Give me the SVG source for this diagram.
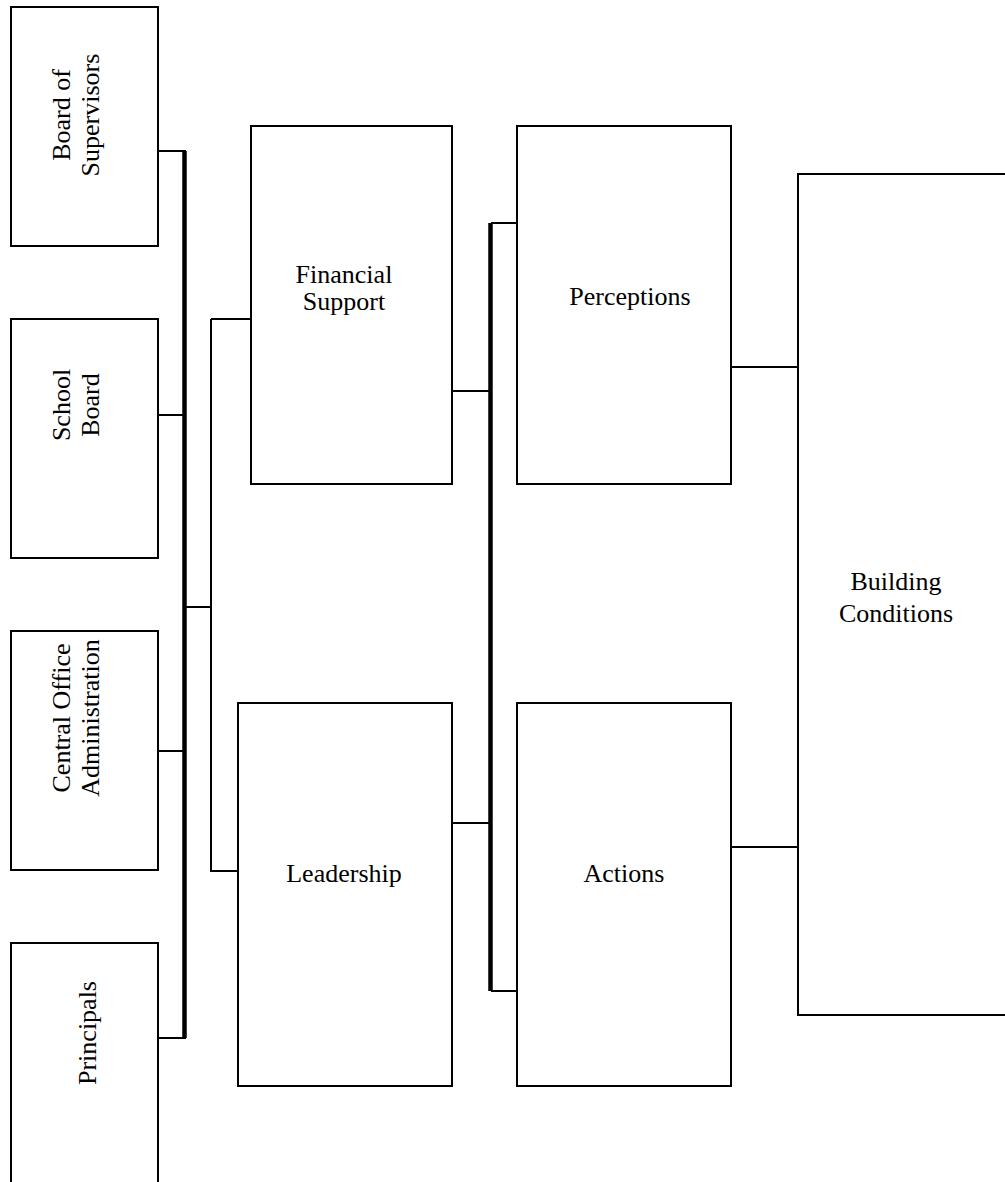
<svg xmlns="http://www.w3.org/2000/svg" width="1005" height="1182" viewBox="0 0 1005 1182">
<style>
.box{fill:#fff;stroke:#000;stroke-width:2}
.ln{fill:none;stroke:#000;stroke-width:2}
.bar{fill:none;stroke:#000;stroke-width:4.5}
text{font-family:"Liberation Serif","Times New Roman",serif;font-size:26px;fill:#000;text-anchor:middle}
</style>
<rect width="1005" height="1182" fill="#fff"/>
<g id="connectors">
<path class="ln" d="M158 151H186M158 415H186M158 751H186M158 1038H186M186 607H211M211 319H251M211 319V871H238"/>
<path class="bar" d="M184.5 151V1038"/>
<path class="ln" d="M452 391H491M452 823H491M491 223H517M491 991H517M731 367H798M731 847H798"/>
<path class="bar" d="M490.5 223V991"/>
</g>
<g id="board-of-supervisors">
<rect class="box" x="11" y="7" width="147" height="239"/>
<text transform="translate(70,115) rotate(-90)">Board of</text>
<text transform="translate(99,115) rotate(-90)">Supervisors</text>
</g>
<g id="school-board">
<rect class="box" x="11" y="319" width="147" height="239"/>
<text transform="translate(70,405) rotate(-90)">School</text>
<text transform="translate(99,405) rotate(-90)">Board</text>
</g>
<g id="central-office-administration">
<rect class="box" x="11" y="631" width="147" height="239"/>
<text transform="translate(70,718) rotate(-90)">Central Office</text>
<text transform="translate(99,718) rotate(-90)">Administration</text>
</g>
<g id="principals">
<rect class="box" x="11" y="943" width="147" height="245"/>
<text transform="translate(96,1033) rotate(-90)">Principals</text>
</g>
<g id="financial-support">
<rect class="box" x="251" y="126" width="201" height="358"/>
<text x="344" y="283">Financial</text>
<text x="344" y="310">Support</text>
</g>
<g id="leadership">
<rect class="box" x="238" y="703" width="214" height="383"/>
<text x="344" y="882">Leadership</text>
</g>
<g id="perceptions">
<rect class="box" x="517" y="126" width="214" height="358"/>
<text x="630" y="305">Perceptions</text>
</g>
<g id="actions">
<rect class="box" x="517" y="703" width="214" height="383"/>
<text x="624" y="882">Actions</text>
</g>
<g id="building-conditions">
<rect class="box" x="798" y="174" width="220" height="841"/>
<text x="896" y="590">Building</text>
<text x="896" y="622">Conditions</text>
</g>
</svg>
